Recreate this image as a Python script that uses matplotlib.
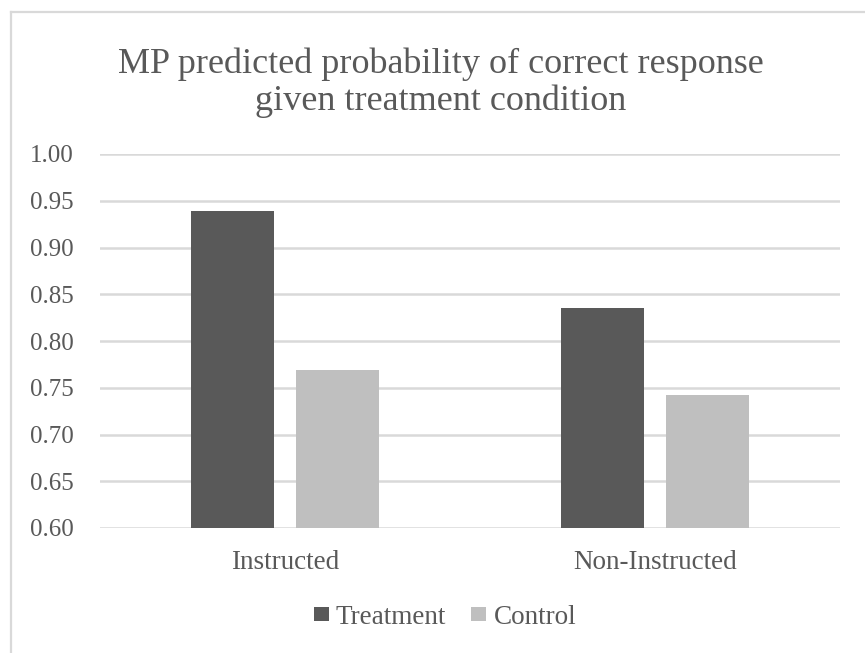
import numpy as np
import matplotlib
matplotlib.use("Agg")
import matplotlib.pyplot as plt
from matplotlib.lines import Line2D

# values
categories = ["Instructed", "Non-Instructed"]
series_names = ["Treatment", "Control"]
treatment = [0.939, 0.835]
control = [0.769, 0.742]
y_ticks = [0.60, 0.65, 0.70, 0.75, 0.80, 0.85, 0.90, 0.95, 1.00]

dark = "#595959"
light = "#BFBFBF"
grid_col = "#D9D9D9"

plt.rcParams["font.family"] = ["Liberation Serif", "DejaVu Serif"]

fig = plt.figure(figsize=(8.65, 6.53), dpi=100)
ax = fig.add_axes([100 / 865, 1 - 528 / 653, 740 / 865, 374 / 653])

x = np.arange(len(categories))
w = 0.224
ax.bar(x - 0.142, treatment, w, color=dark, label=series_names[0], zorder=3)
ax.bar(x + 0.142, control, w, color=light, label=series_names[1], zorder=3)

ax.set_xlim(-0.5, 1.5)
ax.set_ylim(0.60, 1.00)
ax.set_yticks(y_ticks)
ax.set_yticklabels(["%.2f" % v for v in y_ticks])
ax.set_xticks(x)
ax.set_xticklabels(categories)
ax.tick_params(axis="y", length=0, pad=19, labelsize=18, labelcolor=dark)
ax.tick_params(axis="x", length=0, pad=16, labelsize=19.5, labelcolor=dark)
for yv in y_ticks:
    ax.axhline(yv, color=grid_col, lw=1.8, zorder=1)
for s in ax.spines.values():
    s.set_visible(False)

fig.text(441 / 865, 1 - 83 / 653, "MP predicted probability of correct response\ngiven treatment condition",
         ha="center", va="center", fontsize=26, color=dark, linespacing=1.12)

fig.legend(loc="center", bbox_to_anchor=(445 / 865, 1 - 617 / 653), ncol=2, frameon=False,
           fontsize=19.5, handlelength=0.55, handleheight=0.45, handletextpad=0.26,
           columnspacing=0.93, labelcolor=dark)

# chart area border (only top and left visible in the crop)
fig.add_artist(Line2D([10.5 / 865, 10.5 / 865], [0, 1 - 11.5 / 653], color=grid_col, lw=1.6,
                      transform=fig.transFigure))
fig.add_artist(Line2D([10.5 / 865, 1], [1 - 11.5 / 653, 1 - 11.5 / 653], color=grid_col, lw=1.6,
                      transform=fig.transFigure))

fig.savefig("out.png", dpi=100)
